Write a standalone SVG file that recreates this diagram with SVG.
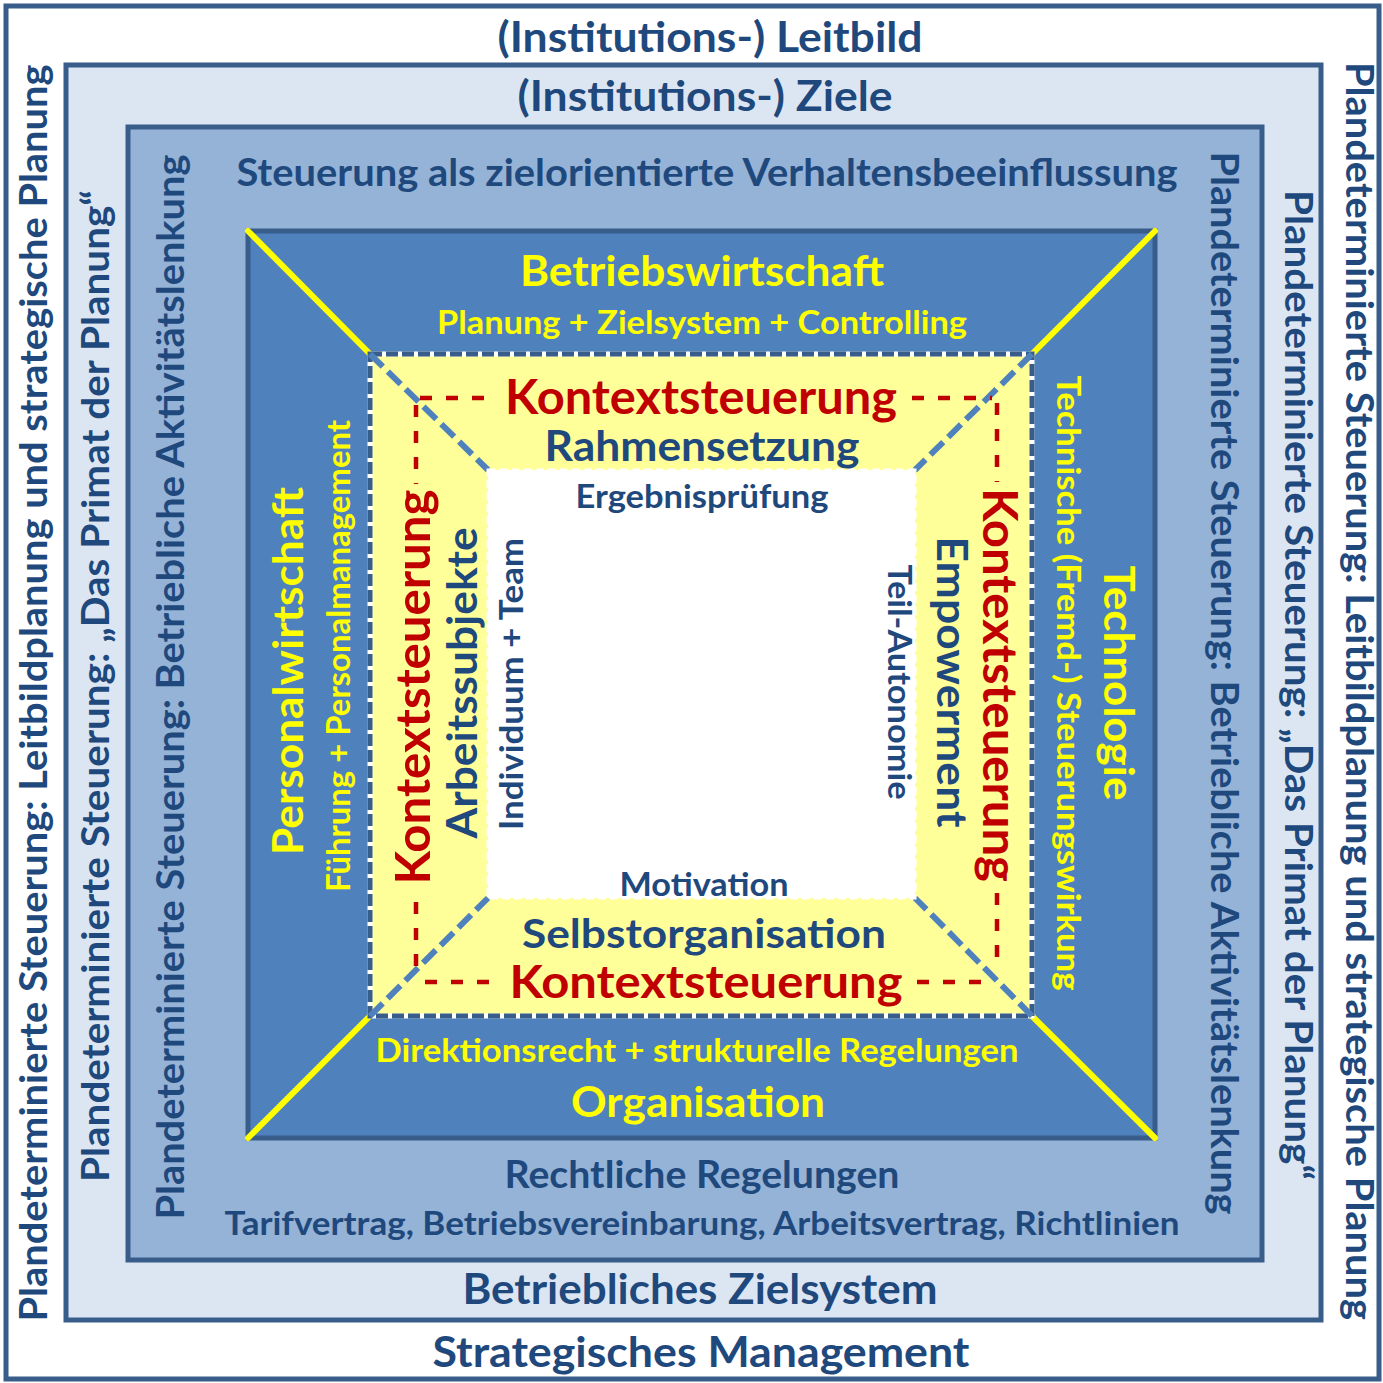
<svg xmlns="http://www.w3.org/2000/svg" width="1383" height="1383" viewBox="0 0 1383 1383">
<style>
text{font-family:Lato,"Open Sans","Liberation Sans",sans-serif;font-weight:bold;text-anchor:middle}
.b{fill:#1f497d}.y{fill:#ffff00}.r{fill:#c00000}
.frame{stroke:#385d8a;stroke-width:5}
.diag{stroke:#ffff00;stroke-width:6;stroke-linecap:round}
.bd{stroke:#4f81bd;stroke-width:6;stroke-dasharray:18 7}
.rd{stroke:#c00000;stroke-width:4.5;stroke-dasharray:12 14;fill:none}
</style>
<g id="frames">
<g id="n-leitbild"><rect class="frame" x="6" y="6" width="1373" height="1373" fill="#ffffff"/></g>
<g id="n-ziele"><rect class="frame" x="66" y="65" width="1255" height="1255" fill="#dce6f2"/></g>
<g id="n-steuerung"><rect class="frame" x="128" y="127" width="1134" height="1133" fill="#95b3d7"/></g>
<g id="n-bereiche"><rect class="frame" x="248" y="231" width="907" height="907" fill="#4f81bd"/></g>
</g>
<g id="connectors-outer">
<line class="diag" x1="248" y1="231" x2="370" y2="354"/>
<line class="diag" x1="1155" y1="231" x2="1032" y2="354"/>
<line class="diag" x1="1155" y1="1138" x2="1032" y2="1016"/>
<line class="diag" x1="248" y1="1138" x2="370" y2="1016"/>
</g>
<g id="n-kontext">
<rect x="370" y="354" width="662" height="662" fill="#ffff99" stroke="#ffffff" stroke-width="5"/>
<rect x="370" y="354" width="662" height="662" fill="none" stroke="#385d8a" stroke-width="5" stroke-dasharray="12 4"/>
</g>
<g id="connectors-inner">
<line class="bd" x1="370" y1="354" x2="488" y2="470"/>
<line class="bd" x1="1032" y1="354" x2="915" y2="470"/>
<line class="bd" x1="1032" y1="1016" x2="915" y2="898"/>
<line class="bd" x1="370" y1="1016" x2="488" y2="898"/>
</g>
<g id="n-kern"><rect x="488" y="470" width="427" height="428" fill="#ffffff" stroke="#ffffff" stroke-width="3" stroke-dasharray="8 4"/></g>
<g id="connectors-red">
<line class="rd" x1="420" y1="398" x2="495" y2="398"/>
<line class="rd" x1="912" y1="398" x2="992" y2="398"/>
<line class="rd" x1="416" y1="405" x2="416" y2="484"/>
<line class="rd" x1="416" y1="902" x2="416" y2="975"/>
<line class="rd" x1="997" y1="403" x2="997" y2="482"/>
<line class="rd" x1="997" y1="893" x2="997" y2="966"/>
<line class="rd" x1="425" y1="982" x2="500" y2="982"/>
<line class="rd" x1="917" y1="982" x2="992" y2="982"/>
</g>
<g id="labels-horizontal">
<text class="b" x="710" y="52" font-size="42" textLength="425" lengthAdjust="spacingAndGlyphs">(Institutions-) Leitbild</text>
<text class="b" x="705" y="111" font-size="42" textLength="375" lengthAdjust="spacingAndGlyphs">(Institutions-) Ziele</text>
<text class="b" x="707" y="186" font-size="38" textLength="941" lengthAdjust="spacingAndGlyphs">Steuerung als zielorientierte Verhaltensbeeinflussung</text>
<text class="y" x="702" y="286" font-size="42" textLength="364" lengthAdjust="spacingAndGlyphs">Betriebswirtschaft</text>
<text class="y" x="702" y="334" font-size="33" textLength="530" lengthAdjust="spacingAndGlyphs">Planung + Zielsystem + Controlling</text>
<text class="r" x="701" y="414" font-size="47" textLength="392" lengthAdjust="spacingAndGlyphs">Kontextsteuerung</text>
<text class="b" x="702" y="461" font-size="42" textLength="315" lengthAdjust="spacingAndGlyphs">Rahmensetzung</text>
<text class="b" x="702" y="508" font-size="33" textLength="253" lengthAdjust="spacingAndGlyphs">Ergebnisprüfung</text>
<text class="b" x="704" y="896" font-size="33" textLength="169" lengthAdjust="spacingAndGlyphs">Motivation</text>
<text class="b" x="704" y="948" font-size="41" textLength="364" lengthAdjust="spacingAndGlyphs">Selbstorganisation</text>
<text class="r" x="706" y="998" font-size="46" textLength="393" lengthAdjust="spacingAndGlyphs">Kontextsteuerung</text>
<text class="y" x="697" y="1062" font-size="33" textLength="643" lengthAdjust="spacingAndGlyphs">Direktionsrecht + strukturelle Regelungen</text>
<text class="y" x="698" y="1117" font-size="42" textLength="254" lengthAdjust="spacingAndGlyphs">Organisation</text>
<text class="b" x="702" y="1188" font-size="38" textLength="395" lengthAdjust="spacingAndGlyphs">Rechtliche Regelungen</text>
<text class="b" x="702" y="1235" font-size="33" textLength="955" lengthAdjust="spacingAndGlyphs">Tarifvertrag, Betriebsvereinbarung, Arbeitsvertrag, Richtlinien</text>
<text class="b" x="700" y="1304" font-size="42" textLength="475" lengthAdjust="spacingAndGlyphs">Betriebliches Zielsystem</text>
<text class="b" x="701" y="1367" font-size="42" textLength="537" lengthAdjust="spacingAndGlyphs">Strategisches Management</text>
</g>
<g id="labels-vertical">
<text class="b" transform="translate(47,693) rotate(-90)" font-size="38" textLength="1257" lengthAdjust="spacingAndGlyphs">Plandeterminierte Steuerung: Leitbildplanung und strategische Planung</text>
<text class="b" transform="translate(109,686) rotate(-90)" font-size="38" textLength="992" lengthAdjust="spacingAndGlyphs">Plandeterminierte Steuerung: „Das Primat der Planung“</text>
<text class="b" transform="translate(184,687) rotate(-90)" font-size="38" textLength="1065" lengthAdjust="spacingAndGlyphs">Plandeterminierte Steuerung: Betriebliche Aktivitätslenkung</text>
<text class="b" transform="translate(1211,683) rotate(90)" font-size="38" textLength="1063" lengthAdjust="spacingAndGlyphs">Plandeterminierte Steuerung: Betriebliche Aktivitätslenkung</text>
<text class="b" transform="translate(1285,685) rotate(90)" font-size="38" textLength="990" lengthAdjust="spacingAndGlyphs">Plandeterminierte Steuerung: „Das Primat der Planung“</text>
<text class="b" transform="translate(1346,691) rotate(90)" font-size="38" textLength="1258" lengthAdjust="spacingAndGlyphs">Plandeterminierte Steuerung: Leitbildplanung und strategische Planung</text>
<text class="y" transform="translate(303,671) rotate(-90)" font-size="42" textLength="368" lengthAdjust="spacingAndGlyphs">Personalwirtschaft</text>
<text class="y" transform="translate(350,656) rotate(-90)" font-size="31.5" textLength="472" lengthAdjust="spacingAndGlyphs">Führung + Personalmanagement</text>
<text class="r" transform="translate(430,687) rotate(-90)" font-size="47" textLength="395" lengthAdjust="spacingAndGlyphs">Kontextsteuerung</text>
<text class="b" transform="translate(477,683) rotate(-90)" font-size="42" textLength="311" lengthAdjust="spacingAndGlyphs">Arbeitssubjekte</text>
<text class="b" transform="translate(523,684) rotate(-90)" font-size="33" textLength="292" lengthAdjust="spacingAndGlyphs">Individuum + Team</text>
<text class="r" transform="translate(983,685) rotate(90)" font-size="47" textLength="394" lengthAdjust="spacingAndGlyphs">Kontextsteuerung</text>
<text class="b" transform="translate(937,682) rotate(90)" font-size="42" textLength="291" lengthAdjust="spacingAndGlyphs">Empowerment</text>
<text class="b" transform="translate(888,682) rotate(90)" font-size="33" textLength="235" lengthAdjust="spacingAndGlyphs">Teil-Autonomie</text>
<text class="y" transform="translate(1057,683) rotate(90)" font-size="31.5" textLength="615" lengthAdjust="spacingAndGlyphs">Technische (Fremd-) Steuerungswirkung</text>
<text class="y" transform="translate(1104,683) rotate(90)" font-size="42" textLength="235" lengthAdjust="spacingAndGlyphs">Technologie</text>
</g>
</svg>
